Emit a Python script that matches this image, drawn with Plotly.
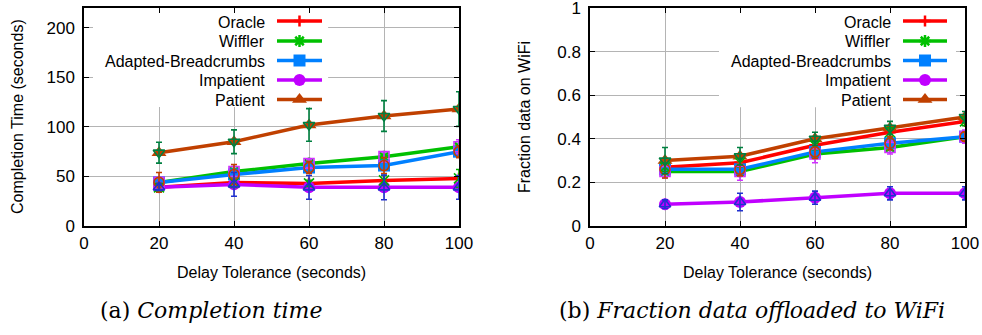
import plotly.graph_objects as go

# ---- data -------------------------------------------------------------
delay = [20, 40, 60, 80, 100]

# completion time (seconds)
oracle_ct = [39, 44, 43, 46, 48]
wiffler_ct = [44, 55, 63, 70, 80]
bread_ct = [44, 52, 59, 61, 75]
impatient_ct = [39, 42, 39, 39, 39]
patient_ct = [74, 85, 102, 111, 118]

oracle_ct_err = [4, 5, 3, 5, 9]
wiffler_ct_err = [5, 5, 4, 5, 7]
bread_ct_err = [10, 10, 6, 8, 6]
impatient_ct_err = [3, 12, 12, 12.5, 12]
patient_ct_err = [10.5, 12, 16.5, 15.5, 17.5]

# fraction of data sent over WiFi
oracle_fr = [0.27, 0.29, 0.37, 0.43, 0.48]
wiffler_fr = [0.25, 0.25, 0.33, 0.36, 0.41]
bread_fr = [0.26, 0.26, 0.34, 0.38, 0.41]
impatient_fr = [0.10, 0.11, 0.13, 0.15, 0.15]
patient_fr = [0.30, 0.32, 0.40, 0.45, 0.50]

oracle_fr_err = [0.02, 0.02, 0.02, 0.02, 0.02]
wiffler_fr_err = [0.03, 0.04, 0.04, 0.03, 0.03]
bread_fr_err = [0.04, 0.03, 0.03, 0.03, 0.02]
impatient_fr_err = [0.02, 0.04, 0.03, 0.03, 0.03]
patient_fr_err = [0.06, 0.04, 0.03, 0.03, 0.025]

names = ["Oracle", "Wiffler", "Adapted-Breadcrumbs", "Impatient", "Patient"]

# ---- styles -----------------------------------------------------------
line_colors = ["#ff0000", "#00c000", "#0080ff", "#c000ff", "#c04000"]
line_symbols = ["cross-thin-open", "asterisk-open", "square", "circle", "triangle-up"]
line_msize = [8, 10, 12, 12, 13]
err_colors = ["#00b000", "#d030ff", "#c04000", "#2030d0", "#008040"]
err_symbols = ["x-thin-open", "square-open", "circle-open", "triangle-up-open", "triangle-down-open"]

FONT = "Liberation Sans, Arial, sans-serif"
W, H = 982, 335

fig = go.Figure()


def add_panel(xa, ya, series, errors):
    for i, ys in enumerate(series):
        marker = dict(symbol=line_symbols[i], size=line_msize[i], color=line_colors[i],
                      line=dict(color=line_colors[i], width=2.5 if i < 2 else 0))
        fig.add_trace(go.Scatter(x=delay, y=ys, mode="lines+markers", xaxis=xa, yaxis=ya,
                                 line=dict(color=line_colors[i], width=3.5),
                                 marker=marker, showlegend=False, hoverinfo="skip"))
    for i, ys in enumerate(series):
        fig.add_trace(go.Scatter(x=delay, y=ys, mode="markers", xaxis=xa, yaxis=ya,
                                 marker=dict(symbol=err_symbols[i], size=10, color=err_colors[i],
                                             line=dict(color=err_colors[i], width=1.6)),
                                 error_y=dict(type="data", array=errors[i], color=err_colors[i],
                                              thickness=1.6, width=3),
                                 showlegend=False, hoverinfo="skip"))


add_panel("x", "y",
          [oracle_ct, wiffler_ct, bread_ct, impatient_ct, patient_ct],
          [oracle_ct_err, wiffler_ct_err, bread_ct_err, impatient_ct_err, patient_ct_err])
add_panel("x2", "y2",
          [oracle_fr, wiffler_fr, bread_fr, impatient_fr, patient_fr],
          [oracle_fr_err, wiffler_fr_err, bread_fr_err, impatient_fr_err, patient_fr_err])

# ---- key (text right-aligned, sample line to its right) ----------------
key_rows = [21, 41, 60.5, 80, 99.5]
keys = [dict(text_right=267, line_x=(277, 322)), dict(text_right=893, line_x=(903, 947))]
annotations = []
for k in keys:
    x0, x1 = k["line_x"]
    xm = (x0 + x1) / 2
    for i, yr in enumerate(key_rows):
        fig.add_trace(go.Scatter(x=[x0, x1], y=[yr, yr], mode="lines", xaxis="x3", yaxis="y3",
                                 line=dict(color=line_colors[i], width=3.5),
                                 showlegend=False, hoverinfo="skip"))
        fig.add_trace(go.Scatter(x=[xm], y=[yr], mode="markers", xaxis="x3", yaxis="y3",
                                 marker=dict(symbol=line_symbols[i], size=line_msize[i],
                                             color=line_colors[i],
                                             line=dict(color=line_colors[i],
                                                       width=2.5 if i < 2 else 0)),
                                 showlegend=False, hoverinfo="skip"))
        annotations.append(dict(text=names[i], x=k["text_right"] / W, y=1 - (yr + 1) / H,
                                xref="paper", yref="paper", xanchor="right", yanchor="middle",
                                showarrow=False, font=dict(family=FONT, size=16, color="black")))

# axis titles and panel captions
title_font = dict(family=FONT, size=16, color="black")
cap_font = dict(family="DejaVu Serif, serif", size=22, color="black")


def label(text, x, y, font, angle=0):
    return dict(text=text, x=x / W, y=1 - y / H, textangle=angle, xref="paper", yref="paper",
                xanchor="center", yanchor="middle", showarrow=False, font=font)


annotations += [
    label("Completion Time (seconds)", 18, 117, title_font, -90),
    label("Fraction data on WiFi", 525, 117, title_font, -90),
    label("Delay Tolerance (seconds)", 271.5, 272, title_font),
    label("Delay Tolerance (seconds)", 777.5, 272, title_font),
    label("(a) <i>Completion time</i>", 211, 310, cap_font),
    label("(b) <i>Fraction data offloaded to WiFi</i>", 752, 310, cap_font),
]

axis_common = dict(showline=True, linecolor="black", linewidth=1.5, mirror="allticks",
                   ticks="inside", ticklen=5, tickwidth=1, tickcolor="black",
                   showgrid=True, gridcolor="#b4b4b4", gridwidth=1, zeroline=False,
                   automargin=False,
                   tickfont=dict(family=FONT, size=17, color="black"), fixedrange=True)

ydom = [(H - 226) / H, (H - 8) / H]
fig.update_layout(
    width=W, height=H, margin=dict(l=0, r=0, t=0, b=0, autoexpand=False),
    paper_bgcolor="white", plot_bgcolor="rgba(0,0,0,0)", showlegend=False,
    xaxis=dict(domain=[84 / W, 459 / W], range=[0, 100], tickvals=[0, 20, 40, 60, 80, 100],
               anchor="y", ticklabelstandoff=1, **axis_common),
    yaxis=dict(domain=ydom, range=[0, 220], tickvals=[0, 50, 100, 150, 200],
               anchor="x", ticklabelstandoff=4, **axis_common),
    xaxis2=dict(domain=[590 / W, 965 / W], range=[0, 100], tickvals=[0, 20, 40, 60, 80, 100],
                anchor="y2", ticklabelstandoff=1, **axis_common),
    yaxis2=dict(domain=ydom, range=[0, 1], tickvals=[0, 0.2, 0.4, 0.6, 0.8, 1],
                ticktext=["0", "0.2", "0.4", "0.6", "0.8", "1"], anchor="x2",
                ticklabelstandoff=4, ticklabeloverflow="allow", **axis_common),
    xaxis3=dict(domain=[0, 1], range=[0, W], visible=False, anchor="y3", fixedrange=True),
    yaxis3=dict(domain=[0, 1], range=[H, 0], visible=False, anchor="x3", fixedrange=True),
    annotations=annotations,
    shapes=[
        # opaque key boxes hiding the grid behind the key
        dict(type="rect", xref="x", yref="y", x0=2.4, x1=65.1, y0=120, y1=220,
             fillcolor="white", line=dict(width=0), layer="between"),
        dict(type="rect", xref="x2", yref="y2", x0=34.4, x1=97.6, y0=0.545, y1=1,
             fillcolor="white", line=dict(width=0), layer="between"),
    ],
)

fig.write_html("out.html")
